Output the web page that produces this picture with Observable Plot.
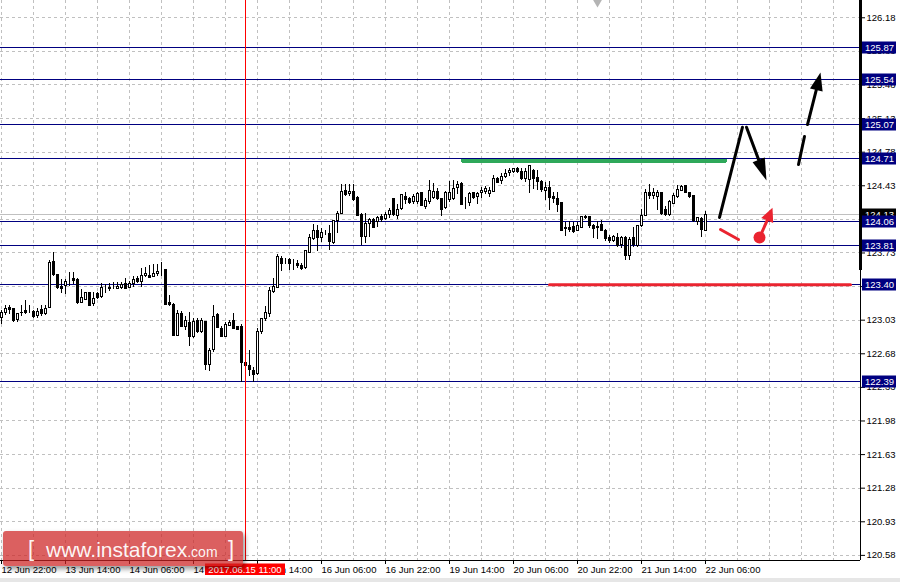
<!DOCTYPE html>
<html><head><meta charset="utf-8">
<script src="https://cdn.jsdelivr.net/npm/d3@7"></script>
<script src="https://cdn.jsdelivr.net/npm/@observablehq/plot@0.6"></script>
<style>
body{margin:0;background:#fff;}
#wrap{position:relative;width:900px;height:582px;overflow:hidden;font-family:"Liberation Sans",Arial,sans-serif;}
#logo{position:absolute;left:3px;top:531px;width:240px;height:35px;background:rgba(205,35,35,0.72);border-radius:3px;box-shadow:2px 3px 5px rgba(0,0,0,0.4);color:rgba(255,255,255,0.95);}
#logo span{position:absolute;line-height:1;white-space:nowrap;}
#strip{position:absolute;left:0;bottom:0;width:900px;height:4px;background:#e6e6e6;}
</style></head>
<body>
<div id="wrap">
  <div id="chart"></div>
  <div id="logo">
    <span style="left:25px;top:7px;font-size:22px;">[</span>
    <span style="left:43px;top:8px;font-size:21px;">www.instaforex<span style="position:static;font-size:14px;">.com</span></span>
    <span style="left:225px;top:7px;font-size:22px;">]</span>
  </div>
  <div id="strip"></div>
</div>
<script>
// ---- candle data (hourly bars, index 0 = 12 Jun 22:00) ----
const opens = [123.05,123.10,123.16,123.15,123.03,123.11,123.13,123.12,123.12,123.07,123.14,123.09,123.16,123.64,123.50,123.38,123.39,123.44,123.46,123.45,123.21,123.24,123.31,123.20,123.30,123.27,123.38,123.37,123.37,123.36,123.37,123.41,123.37,123.41,123.46,123.43,123.49,123.49,123.48,123.51,123.53,123.55,123.21,123.19,122.87,123.09,122.96,123.00,122.85,123.02,122.91,123.01,122.56,122.72,123.08,122.94,122.86,122.97,123.02,122.96,122.96,122.58,122.55,122.50,122.47,122.91,123.04,123.09,123.32,123.37,123.67,123.64,123.66,123.62,123.62,123.59,123.57,123.73,123.88,123.96,123.89,123.94,123.93,123.83,124.06,124.14,124.38,124.34,124.37,124.30,124.13,123.90,124.03,124.07,124.05,124.10,124.08,124.13,124.29,124.12,124.19,124.31,124.29,124.26,124.26,124.35,124.21,124.26,124.30,124.37,124.29,124.20,124.28,124.29,124.41,124.45,124.24,124.25,124.35,124.31,124.35,124.37,124.34,124.37,124.50,124.48,124.52,124.56,124.57,124.61,124.57,124.50,124.49,124.58,124.51,124.47,124.38,124.41,124.31,124.29,124.25,123.99,123.99,124.00,123.96,123.99,124.11,124.10,124.01,124.00,124.02,123.96,123.89,123.86,123.89,123.81,123.89,123.70,123.89,123.80,124.01,124.12,124.35,124.32,124.31,124.35,124.18,124.13,124.24,124.31,124.38,124.43,124.35,124.32,124.05,124.08,123.96];
const highs = [123.13,123.18,123.18,123.15,123.10,123.18,123.24,123.18,123.13,123.15,123.18,123.18,123.65,123.74,123.51,123.45,123.45,123.53,123.53,123.46,123.35,123.32,123.32,123.32,123.32,123.41,123.40,123.41,123.42,123.42,123.42,123.46,123.43,123.49,123.49,123.57,123.58,123.60,123.61,123.61,123.63,123.55,123.29,123.20,123.13,123.12,123.07,123.11,123.05,123.05,123.05,123.02,122.74,123.18,123.10,122.96,123.01,123.03,123.10,122.96,122.99,122.61,122.71,122.54,122.94,123.05,123.17,123.37,123.46,123.71,123.69,123.67,123.67,123.66,123.65,123.62,123.76,123.92,124.03,124.02,123.98,123.96,124.02,124.07,124.16,124.44,124.44,124.44,124.44,124.32,124.14,124.14,124.09,124.09,124.11,124.13,124.15,124.19,124.30,124.23,124.34,124.36,124.31,124.34,124.36,124.36,124.30,124.49,124.45,124.40,124.30,124.37,124.47,124.49,124.47,124.46,124.31,124.36,124.36,124.36,124.41,124.42,124.41,124.54,124.52,124.56,124.60,124.61,124.61,124.62,124.61,124.61,124.64,124.60,124.59,124.48,124.46,124.47,124.36,124.36,124.25,124.05,124.06,124.05,124.05,124.11,124.12,124.11,124.03,124.06,124.07,123.97,123.91,123.91,123.93,123.90,123.90,123.89,124.00,124.02,124.18,124.39,124.44,124.40,124.38,124.35,124.21,124.28,124.35,124.43,124.43,124.43,124.36,124.32,124.10,124.10,124.16];
const lows = [122.99,123.08,123.09,123.01,123.01,123.07,123.09,123.10,123.05,123.05,123.07,123.08,123.15,123.48,123.35,123.31,123.30,123.38,123.40,123.19,123.20,123.23,123.17,123.17,123.25,123.26,123.31,123.33,123.35,123.35,123.35,123.35,123.37,123.37,123.41,123.37,123.47,123.46,123.47,123.49,123.48,123.18,123.17,122.86,122.86,122.95,122.92,122.76,122.84,122.89,122.89,122.51,122.50,122.69,122.94,122.85,122.85,122.96,122.93,122.92,122.38,122.47,122.44,122.38,122.45,122.88,123.02,123.06,123.31,123.37,123.54,123.61,123.55,123.55,123.57,123.55,123.56,123.72,123.86,123.75,123.84,123.91,123.76,123.82,123.93,124.14,124.32,124.32,124.27,124.12,123.81,123.83,123.89,123.98,124.00,124.05,124.07,124.09,124.11,124.08,124.17,124.24,124.23,124.23,124.24,124.21,124.18,124.24,124.29,124.28,124.11,124.18,124.26,124.28,124.34,124.22,124.18,124.21,124.29,124.24,124.30,124.34,124.31,124.36,124.45,124.44,124.51,124.53,124.56,124.56,124.49,124.46,124.35,124.39,124.38,124.36,124.28,124.17,124.25,124.15,123.96,123.90,123.94,123.93,123.95,123.98,124.08,123.99,123.88,123.87,123.95,123.85,123.83,123.84,123.79,123.78,123.65,123.65,123.79,123.79,124.00,124.11,124.29,124.29,124.17,124.12,124.11,124.11,124.23,124.30,124.37,124.35,124.30,124.05,124.02,123.89,123.96];
const closes = [123.10,123.15,123.14,123.02,123.09,123.10,123.11,123.12,123.06,123.12,123.09,123.15,123.63,123.50,123.37,123.36,123.43,123.44,123.44,123.21,123.26,123.31,123.18,123.25,123.26,123.37,123.38,123.35,123.37,123.38,123.40,123.36,123.41,123.45,123.43,123.49,123.51,123.47,123.51,123.53,123.53,123.19,123.19,122.87,123.09,122.96,123.02,122.86,123.01,122.91,123.02,122.56,122.71,123.06,122.95,122.85,122.98,123.00,122.94,122.93,122.58,122.55,122.51,122.46,122.91,123.04,123.10,123.33,123.38,123.69,123.62,123.64,123.62,123.62,123.59,123.56,123.75,123.89,123.96,123.89,123.94,123.94,123.84,124.06,124.14,124.37,124.33,124.37,124.28,124.12,123.90,124.03,124.07,123.99,124.09,124.07,124.13,124.17,124.13,124.18,124.33,124.28,124.25,124.31,124.34,124.22,124.27,124.38,124.37,124.29,124.18,124.36,124.36,124.40,124.44,124.23,124.24,124.34,124.30,124.34,124.38,124.40,124.38,124.50,124.46,124.52,124.55,124.58,124.60,124.57,124.50,124.57,124.64,124.50,124.47,124.39,124.41,124.30,124.29,124.23,123.96,123.98,123.97,123.95,124.01,124.10,124.09,124.01,123.98,123.99,123.96,123.88,123.85,123.90,123.80,123.89,123.70,123.87,123.81,124.01,124.12,124.35,124.32,124.35,124.35,124.14,124.13,124.26,124.32,124.39,124.42,124.35,124.31,124.06,124.09,123.97,124.13];

// ---- axes ----
const priceTicks = [126.18,125.83,125.48,125.13,124.78,124.43,124.08,123.73,123.38,123.03,122.68,122.33,121.98,121.63,121.28,120.93,120.58];
const timeTickBars = [0,16,32,48,64,80,96,112,128,144,160,176];
const timeTickLabels = ["12 Jun 22:00","13 Jun 14:00","14 Jun 06:00","14 Jun 22:00","15 Jun 14:00","16 Jun 06:00","16 Jun 22:00","19 Jun 14:00","20 Jun 06:00","20 Jun 22:00","21 Jun 14:00","22 Jun 06:00"];
const gridBars = d3.range(0, 209, 8);

// ---- levels & annotations ----
const levels = [125.87,125.54,125.07,124.71,124.06,123.81,123.40,122.39];
const bidPrice = 124.13;
const crossBar = 61, crossLabel = "2017.06.15 11:00";
const greenSeg = [[115.25,124.69],[181,124.69]];
const redSeg = [[137,123.40],[212.25,123.40]];
const blackSegs = [
  [0,179.5,124.10],[0,185.25,125.04],
  [1,186.25,125.04],[1,189.3,124.70],
  [2,199.25,124.652],[2,200.75,124.943],
  [3,201.5,125.068],[3,203.7,125.428]
];
const blackHeads = [[189.3,124.70,191.25,124.485],[203.7,125.428,204.75,125.61]];
const redStroke = [[0,179.75,123.974],[0,184.25,123.87],[1,189.5,123.891],[1,191.425,124.069]];
const redHeads = [[191.425,124.069,192.75,124.20]];
const redDot = [[189.5,123.891]];
const topMarker = [[149,126.372]];

const xDomain = [-0.25, 214.75];
const yDomain = [120.5267, 126.36];
const scaleTopThick = 123.547;

const bars = opens.map((o,i)=>({i,o,h:highs[i],l:lows[i],c:closes[i]}));
const NAVY = "#000080", RED = "#ea2430", GREEN = "#2fa85a";
const crisp = {shapeRendering: "crispEdges"};

const plot = Plot.plot({
  width: 900, height: 582,
  marginLeft: 0, marginRight: 40, marginTop: 0, marginBottom: 22,
  x: {type: "linear", domain: xDomain},
  y: {type: "linear", domain: yDomain},
  style: {fontFamily: "'Liberation Sans', Arial, sans-serif", fontSize: "9.5px", background: "#fff", color: "#000", overflow: "visible"},
  marks: [
    Plot.gridY(priceTicks, {stroke: "#c0c0c0", strokeOpacity: 1, strokeDasharray: "3,3", ...crisp}),
    Plot.gridX(gridBars, {stroke: "#c0c0c0", strokeOpacity: 1, strokeDasharray: "3,3", ...crisp}),
    Plot.ruleY([bidPrice], {stroke: "#c0c0c0", strokeWidth: 1, ...crisp}),
    Plot.line(greenSeg, {x: d=>d[0], y: d=>d[1], stroke: GREEN, strokeWidth: 4, ...crisp}),
    Plot.ruleY(levels, {stroke: NAVY, strokeWidth: 1, ...crisp}),
    Plot.ruleX(bars, {x: "i", y1: "l", y2: "h", stroke: "#000", strokeWidth: 1, ...crisp}),
    Plot.rect(bars, {x1: d=>d.i-0.25, x2: d=>d.i+0.25, y1: "o", y2: "c", fill: d=>d.c>=d.o?"#fff":"#000", stroke: "#000", strokeWidth: 1, ...crisp}),
    Plot.ruleX([crossBar], {stroke: "#ff0000", strokeWidth: 1, ...crisp}),
    Plot.line(redSeg, {x: d=>d[0], y: d=>d[1], stroke: RED, strokeWidth: 3}),
    Plot.line(blackSegs, {x: d=>d[1], y: d=>d[2], z: d=>d[0], stroke: "#000", strokeWidth: 3}),
    Plot.line(redStroke, {x: d=>d[1], y: d=>d[2], z: d=>d[0], stroke: RED, strokeWidth: 3}),
    Plot.dot(redDot, {x: d=>d[0], y: d=>d[1], r: 6, fill: RED}),
    Plot.dot(topMarker, {x: d=>d[0], y: d=>d[1], r: 5, symbol: "diamond", fill: "#b4b4b4"}),
    Plot.ruleY([yDomain[0]], {stroke: "#000", ...crisp}),
    Plot.ruleX([xDomain[1]], {y1: yDomain[0], y2: scaleTopThick, stroke: "#000", strokeWidth: 1, ...crisp}),
    Plot.ruleX([xDomain[1]], {y1: scaleTopThick, y2: yDomain[1], stroke: "#000", strokeWidth: 3, ...crisp}),
    Plot.axisY(priceTicks, {anchor: "right", tickSize: 4, tickPadding: 2, tickFormat: d=>d.toFixed(2), label: null, fontSize: 9.5}),
    Plot.axisX(timeTickBars, {anchor: "bottom", tickSize: 4, tickPadding: 2, tickFormat: d=>timeTickLabels[timeTickBars.indexOf(d)], textAnchor: "start", label: null, fontSize: 9.5})
  ]
});
document.getElementById("chart").appendChild(plot);

const svg = d3.select(plot);
const sx = plot.scale("x"), sy = plot.scale("y");
function head(b0,p0,b1,p1,hw,color){
  const x0=sx.apply(b0)+0.5, y0=sy.apply(p0)+0.5, x1=sx.apply(b1)+0.5, y1=sy.apply(p1)+0.5;
  const dx=x1-x0, dy=y1-y0, L=Math.hypot(dx,dy), nx=-dy/L, ny=dx/L;
  svg.append("path").attr("d",`M${x1},${y1}L${x0+nx*hw},${y0+ny*hw}L${x0-nx*hw},${y0-ny*hw}Z`).attr("fill",color);
}
blackHeads.forEach(h=>head(h[0],h[1],h[2],h[3],6.5,"#000"));
redHeads.forEach(h=>head(h[0],h[1],h[2],h[3],6.5,RED));

const lab = svg.append("g").attr("text-anchor","start");
function box(price,bg){
  const y = Math.round(sy.apply(price));
  lab.append("rect").attr("x",862).attr("y",y-5.5).attr("width",34).attr("height",12).attr("fill",bg);
  lab.append("text").attr("x",865).attr("y",y+0.5).attr("dy","0.35em").attr("fill","#fff").attr("text-anchor","start").attr("font-size","9.5px").text(price.toFixed(2));
}
box(bidPrice,"#000");
levels.forEach(p=>box(p,NAVY));

const cx = Math.round(sx.apply(crossBar));
lab.append("rect").attr("x",cx-40).attr("y",563.5).attr("width",80).attr("height",11.5).attr("fill","#ff0000");
lab.append("text").attr("x",cx).attr("y",572.5).attr("text-anchor","middle").attr("fill","#fff").attr("font-size","9.5px").text(crossLabel);
</script>
</body></html>
